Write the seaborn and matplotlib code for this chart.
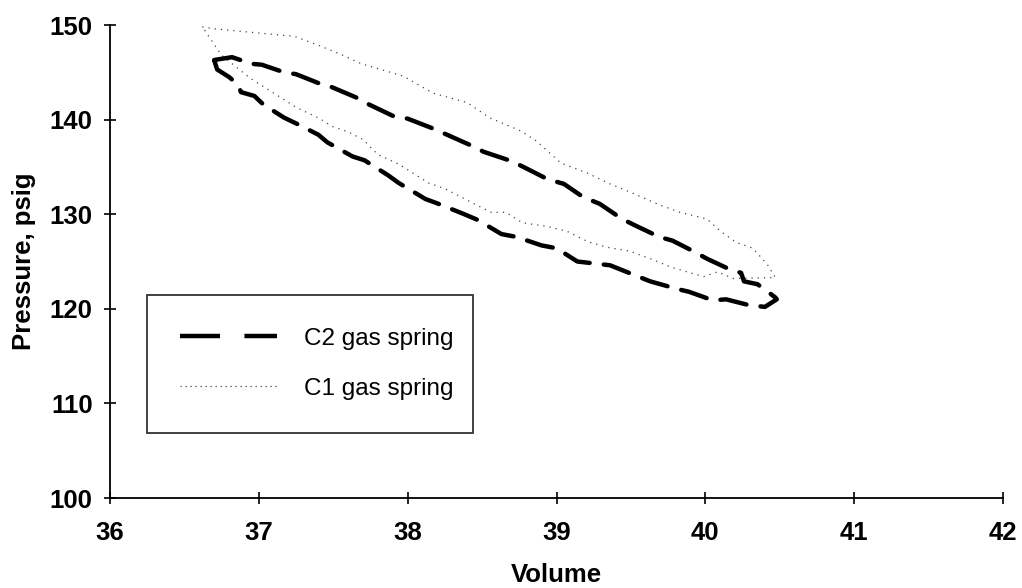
import matplotlib
matplotlib.use("Agg")
import matplotlib.pyplot as plt
from matplotlib.lines import Line2D
import seaborn as sns
import pandas as pd

# ---- data ----
c2_upper_vol = [36.70, 36.82, 36.95, 37.02, 37.17, 37.25, 37.41, 37.48, 37.66, 37.74,
                37.90, 38.00, 38.18, 38.25, 38.45, 38.51, 38.70, 38.79, 38.94, 39.05,
                39.18, 39.29, 39.44, 39.53, 39.69, 39.78, 39.93, 40.01, 40.16, 40.24,
                40.26, 40.35, 40.42, 40.47]
c2_upper_p = [146.3, 146.6, 145.9, 145.8, 145.0, 144.8, 143.8, 143.5, 142.3, 141.6,
              140.4, 140.1, 139.0, 138.5, 137.1, 136.6, 135.6, 134.9, 133.7, 133.2,
              131.8, 131.1, 129.5, 128.8, 127.6, 127.2, 126.0, 125.3, 124.2, 123.8,
              122.9, 122.6, 121.8, 121.2]
c2_lower_vol = [40.48, 40.40, 40.29, 40.14, 40.05, 39.89, 39.81, 39.63, 39.55, 39.36,
                39.14, 39.00, 38.90, 38.73, 38.63, 38.47, 38.38, 38.19, 38.12, 37.94,
                37.87, 37.71, 37.63, 37.46, 37.40, 37.25, 37.17, 37.03, 36.97, 36.88,
                36.86, 36.80, 36.72, 36.70]
c2_lower_p = [121.0, 120.2, 120.4, 121.0, 120.9, 121.8, 122.1, 122.9, 123.4, 124.6,
              125.0, 126.4, 126.7, 127.6, 127.9, 129.4, 130.0, 131.2, 131.6, 133.3,
              134.1, 135.7, 136.1, 137.6, 138.4, 139.6, 140.2, 141.6, 142.5, 142.9,
              143.7, 144.5, 145.3, 146.3]

c1_upper_vol = [36.62, 36.70, 36.90, 37.24, 37.41, 37.55, 37.69, 37.97, 38.17, 38.40,
                38.55, 38.76, 38.86, 39.03, 39.20, 39.36, 39.50, 39.69, 39.83, 40.01,
                40.11, 40.21, 40.32, 40.42, 40.47]
c1_upper_p = [149.8, 149.6, 149.3, 148.8, 147.8, 146.9, 145.9, 144.6, 142.8, 141.8,
              140.2, 138.8, 137.8, 135.4, 134.4, 133.2, 132.3, 131.0, 130.2, 129.5,
              128.1, 127.0, 126.4, 124.6, 123.3]
c1_lower_vol = [40.47, 40.19, 40.08, 39.99, 39.90, 39.77, 39.63, 39.49, 39.34, 39.21,
                39.07, 38.94, 38.77, 38.66, 38.56, 38.46, 38.25, 38.14, 38.04, 37.94,
                37.80, 37.70, 37.60, 37.49, 37.41, 37.25, 36.94, 36.75, 36.62]
c1_lower_p = [123.3, 123.2, 123.9, 123.4, 123.8, 124.4, 125.3, 126.1, 126.5, 127.1,
              128.2, 128.7, 129.1, 130.2, 130.2, 131.0, 132.7, 133.3, 134.3, 135.3,
              136.3, 137.9, 138.7, 139.3, 140.1, 141.3, 144.4, 146.8, 149.8]

series_names = ["C2 gas spring", "C1 gas spring"]
x_ticks = [36, 37, 38, 39, 40, 41, 42]
y_ticks = [100, 110, 120, 130, 140, 150]

df_c2 = pd.DataFrame({"Volume": c2_upper_vol + c2_lower_vol,
                      "Pressure": c2_upper_p + c2_lower_p})
df_c1 = pd.DataFrame({"Volume": c1_upper_vol + c1_lower_vol,
                      "Pressure": c1_upper_p + c1_lower_p})

sns.set_theme(style="white")
plt.rcParams["font.family"] = ["Liberation Sans", "DejaVu Sans"]
plt.rcParams["text.color"] = "black"

fig = plt.figure(figsize=(10.22, 5.88), dpi=100)
ax = fig.add_axes([110 / 1022, 1 - 498 / 588, 893 / 1022, 473 / 588])

sns.lineplot(data=df_c1, x="Volume", y="Pressure", sort=False, estimator=None,
             color="#444444", lw=0.9, linestyle=(0, (1, 4)), ax=ax, legend=False)
sns.lineplot(data=df_c2, x="Volume", y="Pressure", sort=False, estimator=None,
             color="black", lw=3.2, linestyle=(0, (6, 3.2)), ax=ax, legend=False,
             solid_capstyle="round", dash_capstyle="round")

ax.set_xlim(36, 42)
ax.set_ylim(100, 150)
ax.set_xticks(x_ticks)
ax.set_yticks(y_ticks)
ax.set_xticklabels([str(v) for v in x_ticks], fontsize=18.5, fontweight="bold")
ax.set_yticklabels([str(v) for v in y_ticks], fontsize=18.5, fontweight="bold")
ax.tick_params(axis="both", direction="inout", length=9, width=1.2, color="black",
               labelcolor="black")
ax.tick_params(axis="x", pad=12, bottom=True)
ax.tick_params(axis="y", pad=8, left=True)

for side in ["top", "right"]:
    ax.spines[side].set_visible(False)
for side in ["left", "bottom"]:
    ax.spines[side].set_color("black")
    ax.spines[side].set_linewidth(1.3)

ax.set_xlabel("Volume", fontsize=18.5, fontweight="bold", labelpad=13, color="black")
ax.set_ylabel("Pressure, psig", fontsize=18.5, fontweight="bold", labelpad=10, color="black")

handles = [Line2D([], [], color="black", lw=3.2, linestyle=(0, (9, 5.5))),
           Line2D([], [], color="#444444", lw=0.9, linestyle=(0, (1, 3)))]
leg = ax.legend(handles, series_names, loc="upper left",
                bbox_to_anchor=(0.0414, 0.429, 0.365, 0.0), mode="expand",
                fontsize=17.5, frameon=True, fancybox=False, shadow=False,
                handlelength=4.0, handletextpad=1.1, borderpad=1.35,
                labelspacing=1.15, borderaxespad=0)
leg.get_frame().set_edgecolor("black")
leg.get_frame().set_linewidth(1.3)
leg.get_frame().set_facecolor("white")
for t in leg.get_texts():
    t.set_color("black")

fig.savefig("out.png", dpi=100)
